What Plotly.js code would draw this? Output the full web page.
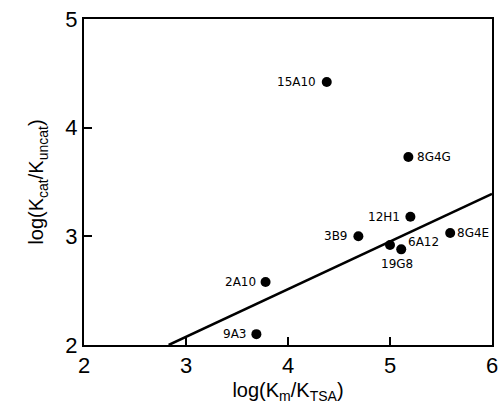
<!DOCTYPE html>
<html>
<head>
<meta charset="utf-8">
<script src="https://cdn.plot.ly/plotly-3.0.1.min.js"></script>
<style>html,body{margin:0;padding:0;background:#fff;}#chart{width:499px;height:404px;}</style>
</head>
<body>
<div id="chart"></div>
<script>
var labels = ["15A10", "8G4G", "12H1", "3B9", "6A12", "19G8", "8G4E", "2A10", "9A3"];
var logKmKtsa = [4.38, 5.18, 5.2, 4.69, 5.0, 5.11, 5.59, 3.78, 3.69];
var logKcatKuncat = [4.42, 3.73, 3.18, 3.0, 2.92, 2.88, 3.03, 2.58, 2.1];
var fitX = [2.83, 6.0];
var fitY = [2.0, 3.39];

// label placement styling (pixel offsets)
var labelAnchor = ["right", "left", "right", "right", "left", "center", "left", "right", "right"];
var labelDx = [-9, 7, -8, -8, 16, -4, 5, -8, -8];
var labelDy = [0, 0, 0, 0, 3, -15, 0, 0, 0];

var data = [
  {
    x: fitX, y: fitY, mode: "lines", type: "scatter",
    line: {color: "#000", width: 2.5}, hoverinfo: "skip", showlegend: false
  },
  {
    x: logKmKtsa, y: logKcatKuncat, mode: "markers", type: "scatter",
    marker: {color: "#000", size: 10}, showlegend: false, cliponaxis: false
  }
];

var annotations = labels.map(function (lab, i) {
  return {
    x: logKmKtsa[i], y: logKcatKuncat[i], xref: "x", yref: "y",
    text: lab, showarrow: false,
    xanchor: labelAnchor[i], yanchor: "middle",
    xshift: labelDx[i], yshift: labelDy[i],
    font: {family: "DejaVu Sans, sans-serif", size: 12, color: "#000"}
  };
});

var axisCommon = {
  showgrid: false, zeroline: false, showline: true, linecolor: "#000", linewidth: 2,
  mirror: true, ticks: "inside", ticklen: 8, tickwidth: 2, tickcolor: "#000",
  tickfont: {family: "Liberation Sans, Arial, sans-serif", size: 22, color: "#000"},
  dtick: 1
};

var layout = {
  width: 499, height: 404,
  margin: {l: 84, r: 7, t: 19, b: 59},
  paper_bgcolor: "#fff", plot_bgcolor: "#fff",
  annotations: annotations,
  xaxis: Object.assign({}, axisCommon, {
    range: [2, 6], tick0: 2,
    title: {text: "log(K<sub>m</sub>/K<sub>TSA</sub>)", standoff: 6,
      font: {family: "Liberation Sans, Arial, sans-serif", size: 20, color: "#000"}}
  }),
  yaxis: Object.assign({}, axisCommon, {
    range: [2, 5], tick0: 2,
    title: {text: "log(K<sub>cat</sub>/K<sub>uncat</sub>)", standoff: 16,
      font: {family: "Liberation Sans, Arial, sans-serif", size: 20, color: "#000"}}
  })
};

Plotly.newPlot("chart", data, layout, {displayModeBar: false, staticPlot: true});
</script>
</body>
</html>
